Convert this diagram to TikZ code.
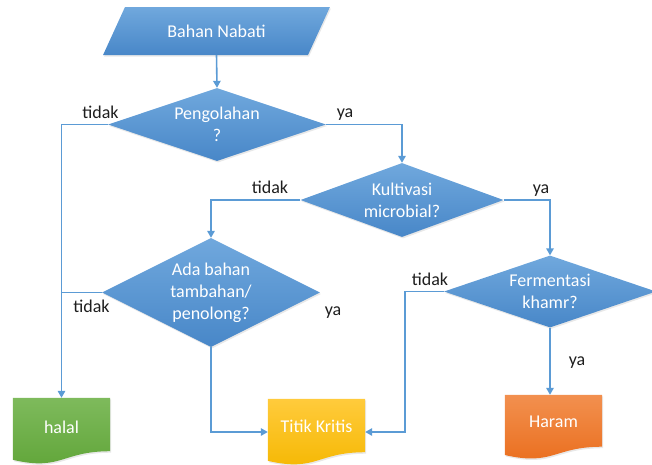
\documentclass[tikz,border=0pt]{standalone}
\usepackage{fontspec}
\setmainfont{Carlito}
\usetikzlibrary{shapes.geometric,arrows.meta,shadows,calc}
\definecolor{lineblue}{HTML}{5B9BD5}
\definecolor{blueT}{HTML}{70A8DD}
\definecolor{blueB}{HTML}{4887C8}
\definecolor{greenT}{HTML}{7EBA5C}
\definecolor{greenB}{HTML}{60A538}
\definecolor{yellowT}{HTML}{FFCB3C}
\definecolor{yellowB}{HTML}{F5B700}
\definecolor{orangeT}{HTML}{F2904F}
\definecolor{orangeB}{HTML}{EA6D1C}
\definecolor{labelc}{HTML}{1E1E1E}
\begin{document}
\begin{tikzpicture}[x=1pt,y=-1pt,
  conn/.style={draw=lineblue,line width=1.6pt,-{Triangle[length=7pt,width=7.5pt]}},
  plainline/.style={draw=lineblue,line width=1.6pt},
  shad/.style={drop shadow={opacity=0.18,shadow xshift=1pt,shadow yshift=-1.5pt}},
  dia/.style={diamond,inner sep=0pt,top color=blueT,bottom color=blueB,draw=none,text=white,
    font=\fontsize{18}{22}\selectfont,align=center,shad},
  lbl/.style={font=\fontsize{18}{22}\selectfont,text=labelc,anchor=base,inner sep=0pt},
  docbox/.style={minimum width=97pt,minimum height=#1,inner sep=0pt},
  doctext/.style={text=white,font=\fontsize{18}{22}\selectfont,inner sep=0pt},
  docfill/.style n args={2}{top color=#1,bottom color=#2,shad}
]
\useasboundingbox (0,0) rectangle (652,464);

% start
\node[trapezium,trapezium left angle=47,trapezium right angle=133,trapezium stretches=true,
  minimum width=227pt,minimum height=48pt,inner sep=0pt,top color=blueT,bottom color=blueB,
  text=white,font=\fontsize{18}{22}\selectfont,shad] (bn) at (216.5,31) {Bahan Nabati};

% decisions
\node[dia,aspect=3,minimum width=218pt,minimum height=73pt] (pg) at (217,124.5) {Pengolahan\\?};
\node[dia,aspect=2.75,minimum width=203pt,minimum height=74pt] (kv) at (402,200) {Kultivasi\\microbial?};
\node[dia,aspect=2,minimum width=218pt,minimum height=109pt] (ada) at (211,292.5) {Ada bahan\\tambahan/\\penolong?};
\node[dia,aspect=3,minimum width=212pt,minimum height=72pt] (fk) at (550,291.5) {Fermentasi\\khamr?};

% document boxes
\node[docbox=66pt] (halal) at (61.5,431) {};
\path[docfill={greenT}{greenB}] (halal.north west) -- (halal.north east) -- ([yshift=13pt]halal.south east)
  .. controls ([yshift=13pt]halal.south) and ([yshift=-7pt]halal.south) .. ([yshift=4.4pt]halal.south west) -- cycle;
\node[doctext] (halaltxt) at ([yshift=4pt]halal.center) {halal};

\node[docbox=66pt] (tk) at (316.5,432) {};
\path[docfill={yellowT}{yellowB}] (tk.north west) -- (tk.north east) -- ([yshift=13pt]tk.south east)
  .. controls ([yshift=13pt]tk.south) and ([yshift=-7pt]tk.south) .. ([yshift=4.4pt]tk.south west) -- cycle;
\node[doctext] (tktxt) at ([yshift=6pt]tk.center) {Titik Kritis};

\node[docbox=64pt] (haram) at (553.5,427) {};
\path[docfill={orangeT}{orangeB}] (haram.north west) -- (haram.north east) -- ([yshift=12.5pt]haram.south east)
  .. controls ([yshift=12.5pt]haram.south) and ([yshift=-7pt]haram.south) .. ([yshift=4.2pt]haram.south west) -- cycle;
\node[doctext] (haramtxt) at ([yshift=5pt]haram.center) {Haram};

% connectors
\draw[conn] (bn.south) -- (pg.north);
\draw[conn] (pg.west) -| (halal.north);
\draw[conn] (pg.east) -| (kv.north);
\draw[conn] (kv.west) -| (ada.north);
\draw[conn] (kv.east) -| (fk.north);
\draw[plainline] (ada.west) -- (ada.west -| halal.north);
\draw[conn] (ada.south) |- (tk.west);
\draw[conn] (fk.west) -- ++(-39,0) |- (tk.east);
\draw[conn] (fk.south) -- (fk.south |- haram.north);

% labels
\node[lbl] (l1) at (100.5,118) {tidak};
\node[lbl] (l2) at (345,117) {ya};
\node[lbl] (l3) at (270,193) {tidak};
\node[lbl] (l4) at (541,193) {ya};
\node[lbl] (l5) at (430,285) {tidak};
\node[lbl] (l6) at (91.5,312) {tidak};
\node[lbl] (l7) at (333,315.5) {ya};
\node[lbl] (l8) at (577,365.5) {ya};
\end{tikzpicture}
\end{document}
